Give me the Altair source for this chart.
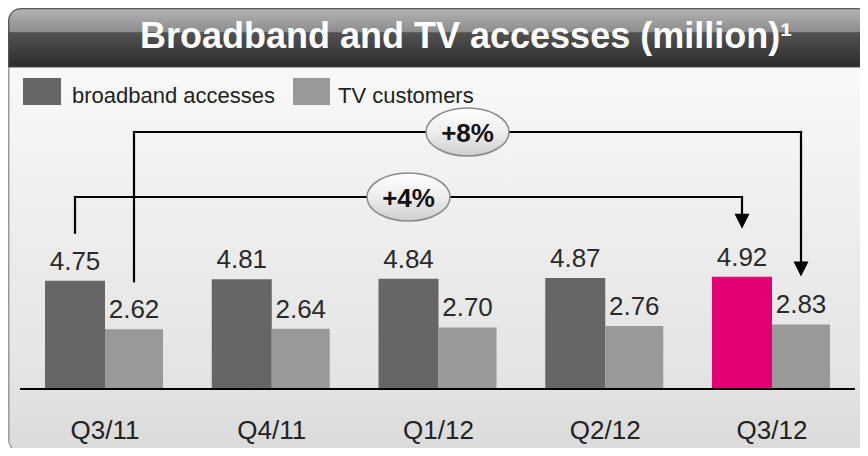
import altair as alt
import pandas as pd

# ---------------- data ----------------
quarters = ["Q3/11", "Q4/11", "Q1/12", "Q2/12", "Q3/12"]
broadband = [4.75, 4.81, 4.84, 4.87, 4.92]
tv = [2.62, 2.64, 2.70, 2.76, 2.83]
series = ["broadband accesses", "TV customers"]
growth = ["+4%", "+8%"]
title_text = "Broadband and TV accesses (million)\u00b9"

# ---------------- layout constants ----------------
W, H = 852, 440
OFF = 8
STEP = 166.75          # px between group centres
X0_PAGE = 105          # page x of first group centre
PXU = 22.8             # px per million
BASE_PAGE = 389        # page y of zero line
FONT = "Liberation Sans, Arial, sans-serif"
C_DARK, C_LIGHT, C_MAG = "#666666", "#999999", "#e20074"

x_lo = -(X0_PAGE - OFF) / STEP
x_hi = x_lo + W / STEP
y_lo = -(H - (BASE_PAGE - OFF)) / PXU
y_hi = y_lo + H / PXU
xs = alt.Scale(domain=[x_lo, x_hi], nice=False, zero=False)
ys = alt.Scale(domain=[y_lo, y_hi], nice=False, zero=False)


def px(p):
    return p - OFF


def yv(page_y):
    return (BASE_PAGE - page_y) / PXU


one = pd.DataFrame({"a": [0]})

# ---------------- background / frame ----------------
panel_grad = alt.Gradient(
    gradient="linear",
    stops=[alt.GradientStop(color="#fdfdfd", offset=0),
           alt.GradientStop(color="#f0f0f0", offset=0.4),
           alt.GradientStop(color="#e4e4e4", offset=0.82),
           alt.GradientStop(color="#dadada", offset=1)],
    x1=0, x2=0, y1=0, y2=1)
panel = alt.Chart(one).mark_rect(
    cornerRadius=12, fill=panel_grad, stroke="#999999", strokeWidth=1.5
).encode(x=alt.value(0.75), x2=alt.value(W + 20), y=alt.value(0.75), y2=alt.value(H + 4))

banner_grad = alt.Gradient(
    gradient="linear",
    stops=[alt.GradientStop(color="#b4b4b4", offset=0),
           alt.GradientStop(color="#8c8c8c", offset=0.4),
           alt.GradientStop(color="#525252", offset=0.41),
           alt.GradientStop(color="#2c2c2c", offset=1)],
    x1=0, x2=0, y1=0, y2=1)
banner = alt.Chart(one).mark_rect(
    cornerRadiusTopLeft=12, cornerRadiusTopRight=12, fill=banner_grad,
    stroke="#444444", strokeWidth=1
).encode(x=alt.value(0.75), x2=alt.value(W + 20), y=alt.value(0.75), y2=alt.value(px(67)))

title = alt.Chart(one).mark_text(
    text=title_text, align="left", baseline="alphabetic", fontSize=36,
    fontWeight="bold", color="white", font=FONT
).encode(x=alt.value(px(140)), y=alt.value(px(48)))

# ---------------- legend ----------------
leg_layers = []
leg_pos = [(23, 61, 72), (293, 330, 338)]
for name, col, (r0, r1, tx) in zip(series, [C_DARK, C_LIGHT], leg_pos):
    leg_layers.append(alt.Chart(one).mark_rect(color=col).encode(
        x=alt.value(px(r0)), x2=alt.value(px(r1)), y=alt.value(px(78)), y2=alt.value(px(105))))
    leg_layers.append(alt.Chart(one).mark_text(
        text=name, align="left", baseline="alphabetic", fontSize=22, color="#222222", font=FONT
    ).encode(x=alt.value(px(tx)), y=alt.value(px(103))))

# ---------------- bars ----------------
BW_D = 60 / STEP
BW_L = 58 / STEP
rows = []
for i, q in enumerate(quarters):
    rows.append(dict(q=q, s=series[0], x0=i - BW_D, x1=i, xc=i - BW_D / 2, v=broadband[i], base=0.0,
                     fill=C_MAG if i == len(quarters) - 1 else C_DARK, lab=f"{broadband[i]:.2f}"))
    rows.append(dict(q=q, s=series[1], x0=i, x1=i + BW_L, xc=i + BW_L / 2, v=tv[i], base=0.0,
                     fill=C_LIGHT, lab=f"{tv[i]:.2f}"))
bars_df = pd.DataFrame(rows)

bars = alt.Chart(bars_df).mark_rect().encode(
    x=alt.X("x0:Q", scale=xs, axis=None), x2="x1",
    y=alt.Y("v:Q", scale=ys, axis=None), y2="base",
    color=alt.Color("fill:N", scale=None, legend=None))

values = alt.Chart(bars_df).mark_text(
    baseline="alphabetic", dy=-11, fontSize=26, color="#2a2a2a", font=FONT
).encode(x=alt.X("xc:Q", scale=xs, axis=None), y=alt.Y("v:Q", scale=ys, axis=None), text="lab:N")

axis_line = alt.Chart(one).mark_rule(color="black", strokeWidth=2).encode(
    x=alt.value(px(20)), x2=alt.value(px(855)), y=alt.Y(datum=0, scale=ys, axis=None))

cat_df = pd.DataFrame({"x": list(range(len(quarters))), "q": quarters})
cats = alt.Chart(cat_df).mark_text(
    baseline="alphabetic", fontSize=26, color="#222222", font=FONT
).encode(x=alt.X("x:Q", scale=xs, axis=None), y=alt.value(px(439)), text="q:N")

# ---------------- growth arrows ----------------
GAP = 48 / PXU
last = len(quarters) - 1
arrows = [
    # (label, x left, x right, level, left end value, tip value)
    (growth[0], 0 - BW_D / 2, last - BW_D / 2, yv(197), broadband[0] + GAP, broadband[last] + GAP),
    (growth[1], 0 + BW_L / 2, last + BW_L / 2, yv(132), tv[0] + GAP, tv[last] + GAP),
]
seg_rows, tip_rows, ell_rows = [], [], []
for lab, xl, xr, lvl, lend, tip in arrows:
    seg_rows += [dict(x=xl, x2=xl, y=lvl, y2=lend),
                 dict(x=xl, x2=xr, y=lvl, y2=lvl),
                 dict(x=xr, x2=xr, y=lvl, y2=tip + 8 / PXU)]
    tip_rows.append(dict(x=xr, y=tip))
    ell_rows.append(dict(x=(xl + xr) / 2, y=lvl, lab=lab))
seg_df = pd.DataFrame(seg_rows)
tip_df = pd.DataFrame(tip_rows)
ell_df = pd.DataFrame(ell_rows)

segs = alt.Chart(seg_df).mark_rule(color="black", strokeWidth=2.2, strokeCap="square").encode(
    x=alt.X("x:Q", scale=xs, axis=None), x2="x2",
    y=alt.Y("y:Q", scale=ys, axis=None), y2="y2")

heads = alt.Chart(tip_df).mark_point(
    shape="M -1 -2 L 1 -2 L 0 0 Z", size=225, filled=True, color="black", opacity=1
).encode(x=alt.X("x:Q", scale=xs, axis=None), y=alt.Y("y:Q", scale=ys, axis=None))

ell_grad = alt.Gradient(
    gradient="linear",
    stops=[alt.GradientStop(color="#ffffff", offset=0),
           alt.GradientStop(color="#eeeeee", offset=0.5),
           alt.GradientStop(color="#cdcdcd", offset=1)],
    x1=0, x2=0, y1=0, y2=1)
ellipses = alt.Chart(ell_df).mark_point(
    shape="M -1 0 A 1 0.58 0 1 1 1 0 A 1 0.58 0 1 1 -1 0 Z", size=83 * 83,
    filled=True, fill=ell_grad, stroke="#8a8a8a", strokeWidth=1.5, opacity=1, fillOpacity=1
).encode(x=alt.X("x:Q", scale=xs, axis=None), y=alt.Y("y:Q", scale=ys, axis=None))

ell_text = alt.Chart(ell_df).mark_text(
    baseline="alphabetic", dy=10, fontSize=26, fontWeight="bold", color="#111111", font=FONT
).encode(x=alt.X("x:Q", scale=xs, axis=None), y=alt.Y("y:Q", scale=ys, axis=None), text="lab:N")

chart = alt.layer(
    panel, banner, title, *leg_layers, bars, axis_line, values, cats,
    segs, heads, ellipses, ell_text
).properties(
    width=W, height=H, padding=0, autosize="none", background="white"
).configure_view(stroke=None)

chart.save("out.html", embed_options={"renderer": "svg", "actions": False})
